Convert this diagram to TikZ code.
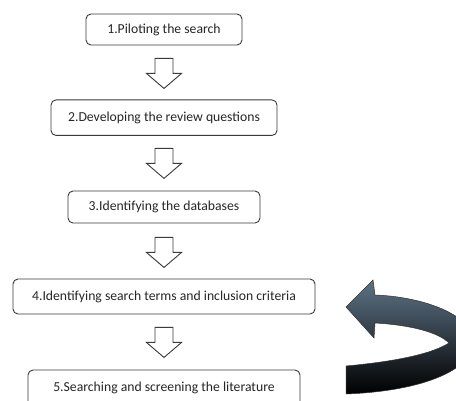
\documentclass[tikz,border=0pt]{standalone}
\usepackage{fontspec}
\setmainfont{Carlito}
\usetikzlibrary{calc}
\definecolor{boxline}{HTML}{3A3A3A}
\definecolor{txt}{HTML}{262626}
\definecolor{slate}{HTML}{5E7386}
\begin{document}
\begin{tikzpicture}[x=1pt,y=-1pt,
  box/.style={draw=boxline, line width=0.9pt, rounded corners=5pt, fill=white,
    text=txt, font=\fontsize{13.7}{16}\selectfont, inner sep=0pt},
  blockarrow/.pic={
    \draw[boxline, line width=0.9pt, fill=white, line join=miter]
      (-9,0) -- (9,0) -- (9,15) -- (17.5,15) -- (0,30) -- (-17.5,15) -- (-9,15) -- cycle;
  }]
\useasboundingbox (0,0) rectangle (456,401);
\clip (0,0) rectangle (456,401);
\fill[white] (0,0) rectangle (456,401);

\node[box, minimum width=156pt, minimum height=31pt] (b1) at (164,29.5) {1.Piloting the search};
\node[box, minimum width=226pt, minimum height=35.5pt] (b2) at (164,117.7) {2.Developing the review questions};
\node[box, minimum width=192pt, minimum height=32pt] (b3) at (164,207) {3.Identifying the databases};
\node[box, minimum width=302pt, minimum height=35pt] (b4) at (164,296.5) {4.Identifying search terms and inclusion criteria};
\node[box, minimum width=272pt, minimum height=36pt] (b5) at (164,388) {5.Searching and screening the literature};

\pic at ($(b1.south)+(0,13)$) {blockarrow};
\pic at ($(b2.south)+(0,12.5)$) {blockarrow};
\pic at ($(b3.south)+(0,14)$) {blockarrow};
\pic at ($(b4.south)+(0,13)$) {blockarrow};

% curved return arrow
\shade[top color=slate, bottom color=black, draw=black!80, line width=0.5pt]
  (346,366) -- (346,394)
  .. controls (400,392) and (455,380) .. (472,352)
  .. controls (485,320) and (430,297) .. (375,295)
  -- (373,280) -- (346,307) -- (374,338) -- (375,323)
  .. controls (410,325) and (438,332) .. (449,343)
  .. controls (430,355) and (390,362) .. (346,366) -- cycle;
\end{tikzpicture}
\end{document}
